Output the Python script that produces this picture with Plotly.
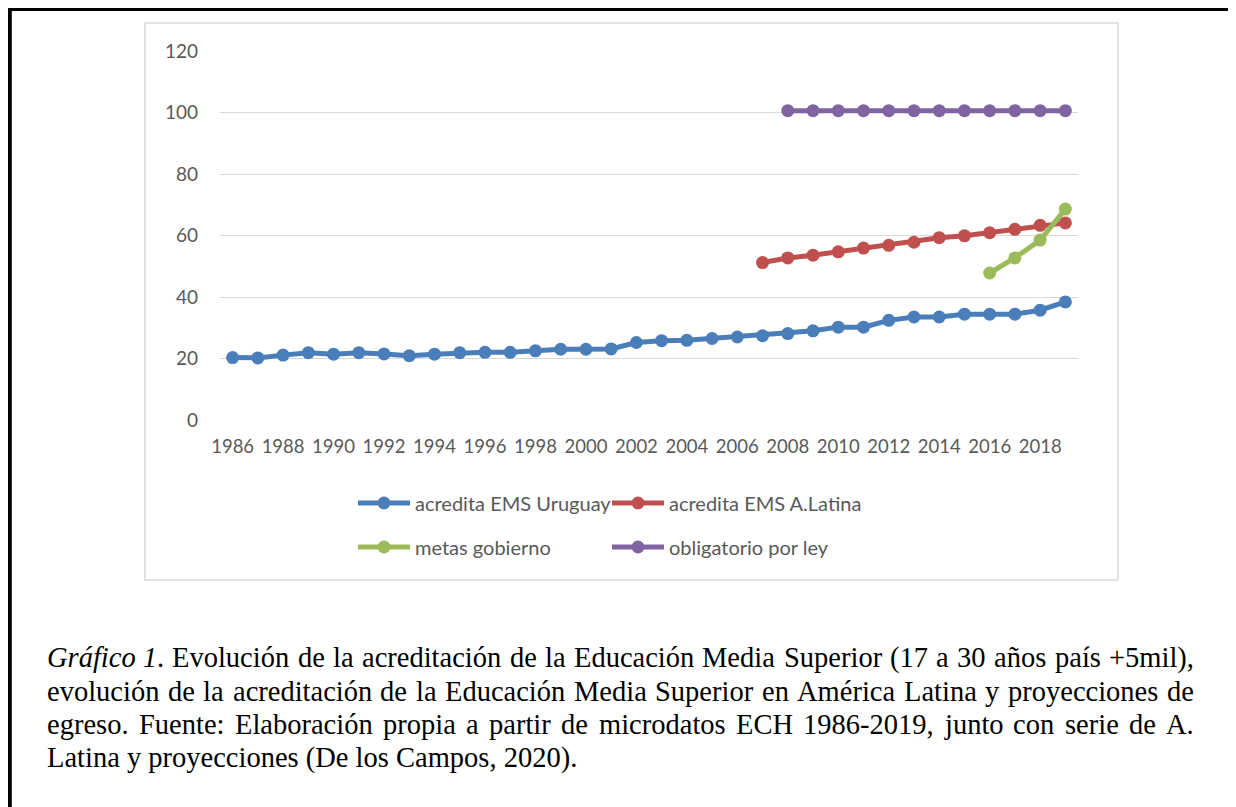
import plotly.graph_objects as go

# ---------------- data ----------------
years = [1986, 1987, 1988, 1989, 1990, 1991, 1992, 1993, 1994, 1995, 1996, 1997,
         1998, 1999, 2000, 2001, 2002, 2003, 2004, 2005, 2006, 2007, 2008, 2009,
         2010, 2011, 2012, 2013, 2014, 2015, 2016, 2017, 2018, 2019]
uruguay = [20.3, 20.2, 21.1, 21.9, 21.4, 21.9, 21.5, 20.9, 21.4, 21.9, 22.0, 22.0,
           22.5, 23.0, 23.0, 23.1, 25.2, 25.8, 25.9, 26.5, 27.0, 27.4, 28.1, 29.0,
           30.2, 30.2, 32.4, 33.5, 33.5, 34.4, 34.4, 34.4, 35.7, 38.4]

latam_years = [2007, 2008, 2009, 2010, 2011, 2012, 2013, 2014, 2015, 2016, 2017, 2018, 2019]
latam = [51.2, 52.7, 53.6, 54.7, 55.9, 56.8, 57.8, 59.3, 59.9, 60.9, 62.0, 63.3, 64.1]

metas_years = [2016, 2017, 2018, 2019]
metas = [47.8, 52.7, 58.5, 68.6]

ley_years = [2008, 2009, 2010, 2011, 2012, 2013, 2014, 2015, 2016, 2017, 2018, 2019]
ley = [100.6, 100.6, 100.6, 100.6, 100.6, 100.6, 100.6, 100.6, 100.6, 100.6, 100.6, 100.6]

series_names = ["acredita EMS Uruguay", "acredita EMS A.Latina", "metas gobierno", "obligatorio por ley"]
series_colors = ["#4A7EBB", "#C0504D", "#9BBB59", "#8064A2"]

x_tick_labels = [1986, 1988, 1990, 1992, 1994, 1996, 1998, 2000, 2002, 2004, 2006, 2008,
                 2010, 2012, 2014, 2016, 2018]
y_tick_values = [0, 20, 40, 60, 80, 100, 120]

caption_lines = [
    ["<i>Gráfico 1</i>.", "Evolución", "de", "la", "acreditación", "de", "la", "Educación", "Media",
     "Superior", "(17", "a", "30", "años", "país", "+5mil),"],
    ["evolución", "de", "la", "acreditación", "de", "la", "Educación", "Media", "Superior", "en",
     "América", "Latina", "y", "proyecciones", "de"],
    ["egreso.", "Fuente:", "Elaboración", "propia", "a", "partir", "de", "microdatos", "ECH",
     "1986-2019,", "junto", "con", "serie", "de", "A."],
    ["Latina y proyecciones (De los Campos, 2020)."],
]

# ---------------- geometry ----------------
# the page body has an 8px margin, so figure coordinates = page coordinates - 8
OFF = 8
FW, FH = 1236 - OFF, 807 - OFF
PL, PR, PT, PB = 220 - OFF, 1078 - OFF, 51 - OFF, 420 - OFF
PW, PH = PR - PL, PB - PT


def px(x):
    return (x - OFF - PL) / PW


def py(y):
    return (PB - (y - OFF)) / PH


CHART_FONT = "Lato"
TEXT_GRAY = "#595959"

fig = go.Figure()
legend_ids = ["legend", "legend2", "legend3", "legend4"]
data_sets = [(years, uruguay), (latam_years, latam), (metas_years, metas), (ley_years, ley)]
for (xs, ys), name, col, lg in zip(data_sets, series_names, series_colors, legend_ids):
    fig.add_trace(go.Scatter(
        x=xs, y=ys, name=name, mode="lines+markers",
        line=dict(color=col, width=5),
        marker=dict(color=col, size=13),
        legend=lg,
    ))

# legend placement (one legend per entry to mimic Excel layout)
leg_pos = [(353, 503), (607, 503), (353, 547), (607, 547)]
legend_common = dict(
    orientation="v", xanchor="left", yanchor="middle",
    font=dict(family=CHART_FONT, size=20, color=TEXT_GRAY),
    bgcolor="rgba(0,0,0,0)", borderwidth=0, itemwidth=52,
)
layout_legends = {}
for lg, (lx, ly) in zip(legend_ids, leg_pos):
    layout_legends[lg] = dict(x=px(lx), y=py(ly), **legend_common)

shapes = [
    # chart area frame
    dict(type="rect", xref="paper", yref="paper",
         x0=px(145), x1=px(1118), y0=py(580), y1=py(23),
         line=dict(color="#D9D9D9", width=1.5), layer="below"),
    # page border (left and top)
    dict(type="line", xref="paper", yref="paper",
         x0=px(9.9), x1=px(9.9), y0=py(5), y1=py(815),
         line=dict(color="black", width=3.8)),
    dict(type="line", xref="paper", yref="paper",
         x0=px(7.5), x1=px(1245), y0=py(9.5), y1=py(9.5),
         line=dict(color="black", width=3)),
]

# ---------------- caption (justified like the document) ----------------
ROMAN = {
    'a': 444, 'b': 500, 'c': 444, 'd': 500, 'e': 444, 'f': 333, 'g': 500, 'h': 500, 'i': 278,
    'j': 278, 'k': 500, 'l': 278, 'm': 778, 'n': 500, 'o': 500, 'p': 500, 'q': 500, 'r': 333,
    's': 389, 't': 278, 'u': 500, 'v': 500, 'w': 722, 'x': 500, 'y': 500, 'z': 444,
    'á': 444, 'é': 444, 'í': 278, 'ó': 500, 'ñ': 500, 'ú': 500,
    'A': 722, 'C': 667, 'E': 611, 'F': 556, 'G': 722, 'H': 722, 'L': 611, 'M': 889, 'S': 556,
    '0': 500, '1': 500, '2': 500, '3': 500, '4': 500, '5': 500, '6': 500, '7': 500, '8': 500,
    '9': 500, '.': 250, ',': 250, ':': 278, '-': 333, '(': 333, ')': 333, '+': 564, ' ': 250,
}
ITALIC = dict(ROMAN)
ITALIC.update({'r': 389, 'á': 500, 'f': 278, 'i': 278, 'c': 444, 'o': 500, 'G': 722, '1': 500})


def text_width(tok, size):
    w = 0
    italic = False
    i = 0
    while i < len(tok):
        if tok.startswith("<i>", i):
            italic = True
            i += 3
            continue
        if tok.startswith("</i>", i):
            italic = False
            i += 4
            continue
        tab = ITALIC if italic else ROMAN
        w += tab.get(tok[i], 500)
        i += 1
    return w * size / 1000.0


CAP_SIZE = 28.5
CAP_L, CAP_R = 47, 1194
baselines = [667, 701, 734, 767]
annotations = []
for li, (words, base) in enumerate(zip(caption_lines, baselines)):
    ymid = py(base - CAP_SIZE * 0.32)
    if li == len(caption_lines) - 1:
        annotations.append(dict(x=px(CAP_L), y=ymid, xref="paper", yref="paper", text=words[0],
                                showarrow=False, xanchor="left", yanchor="middle",
                                borderpad=0, borderwidth=0,
                                font=dict(family="Liberation Serif", size=CAP_SIZE, color="black")))
        continue
    widths = [text_width(w, CAP_SIZE) for w in words]
    gap = (CAP_R - CAP_L - sum(widths)) / (len(words) - 1)
    xcur = CAP_L
    for k, (w, ww) in enumerate(zip(words, widths)):
        last = k == len(words) - 1
        annotations.append(dict(
            x=px(CAP_R if last else xcur), y=ymid, xref="paper", yref="paper", text=w,
            showarrow=False, xanchor="right" if last else "left", yanchor="middle",
            borderpad=0, borderwidth=0,
            font=dict(family="Liberation Serif", size=CAP_SIZE, color="black")))
        xcur += ww + gap

fig.update_layout(
    width=FW, height=FH,
    margin=dict(l=PL, r=FW - PR, t=PT, b=FH - PB),
    paper_bgcolor="white", plot_bgcolor="white",
    showlegend=True,
    shapes=shapes,
    annotations=annotations,
    **layout_legends,
)
fig.update_xaxes(
    range=[1985.5, 2019.5], tickmode="array", tickvals=x_tick_labels,
    ticktext=[str(v) for v in x_tick_labels],
    showgrid=False, zeroline=False, showline=False, ticks="",
    ticklabelstandoff=13,
    tickfont=dict(family=CHART_FONT, size=18.5, color=TEXT_GRAY),
)
fig.update_yaxes(
    range=[0, 120], tickmode="array", tickvals=y_tick_values,
    showgrid=True, gridcolor="#D9D9D9", gridwidth=1.2, zeroline=False, showline=False,
    ticks="", ticklabelstandoff=21,
    tickfont=dict(family=CHART_FONT, size=19, color=TEXT_GRAY),
)

fig.write_html("out.html")
